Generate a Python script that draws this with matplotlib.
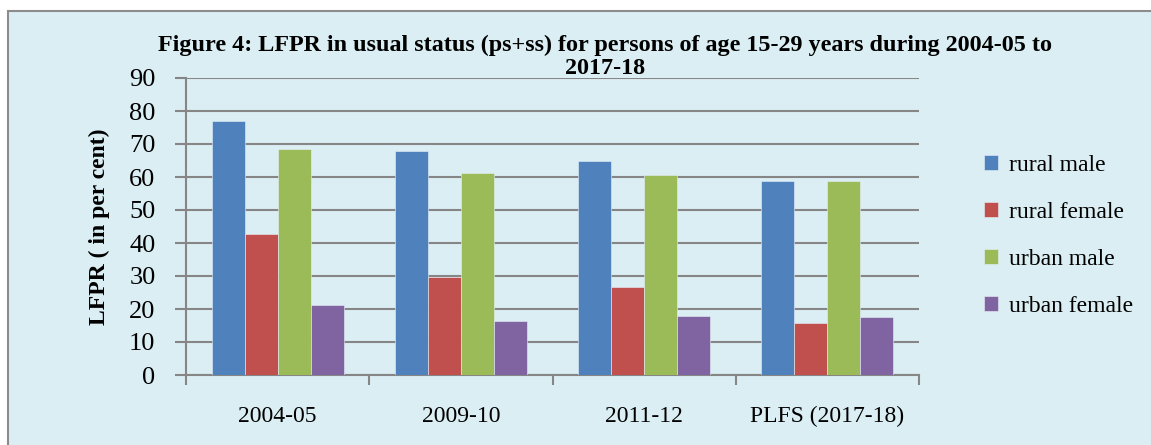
import numpy as np
import matplotlib
matplotlib.use("Agg")
import matplotlib.pyplot as plt
from matplotlib.patches import Rectangle

plt.rcParams['font.family'] = ['Liberation Serif', 'DejaVu Serif']

# values
periods = ["2004-05", "2009-10", "2011-12", "PLFS (2017-18)"]
series_names = ["rural male", "rural female", "urban male", "urban female"]
rural_male = [77.1, 67.9, 64.9, 58.8]
rural_female = [42.7, 29.8, 26.6, 15.7]
urban_male = [68.6, 61.1, 60.6, 58.8]
urban_female = [21.1, 16.3, 18.0, 17.5]
yticks = list(range(0, 91, 10))

colours = ["#4F81BD", "#C0504D", "#9BBB59", "#8064A2"]
W, H = 1151, 445

fig = plt.figure(figsize=(W / 100, H / 100), dpi=100)
fig.patch.set_facecolor("white")

# chart area background with a grey frame
bg = Rectangle((8 / W, -0.1), 1.1, (H - 11) / H + 0.1, transform=fig.transFigure,
               facecolor="#DBEEF3", edgecolor="#8C8C8C", linewidth=1.5, zorder=-10)
fig.patches.append(bg)

ax = fig.add_axes([186 / W, (H - 375) / H, (919 - 186) / W, (375 - 78) / H])
ax.set_facecolor("none")
ax.set_zorder(1)

x = np.arange(len(periods))
bw = 0.18
all_series = [rural_male, rural_female, urban_male, urban_female]
for i, vals in enumerate(all_series):
    ax.bar(x + (i - 1.5) * bw, vals, bw, color=colours[i], label=series_names[i],
           edgecolor="#E8F0F8", linewidth=0.4, zorder=3)

ax.set_xlim(-0.5, len(periods) - 0.5)
ax.set_ylim(0, 90)
ax.set_yticks(yticks)
ax.yaxis.grid(True, color="#868686", linewidth=1.5, zorder=0)
ax.set_axisbelow(True)

# category labels between boundary ticks
ax.set_xticks(np.arange(len(periods) + 1) - 0.5)
ax.set_xticklabels([])
ax.set_xticks(x, minor=True)
ax.set_xticklabels(periods, minor=True, fontsize=17)
ax.tick_params(axis="x", which="minor", length=0, pad=22)
ax.tick_params(axis="x", which="major", length=7, width=1.5, color="#868686", direction="out")
ax.tick_params(axis="y", length=8, width=1.5, color="#868686", labelsize=19, pad=14)

for s in ["top", "right"]:
    ax.spines[s].set_visible(False)
for s in ["left", "bottom"]:
    ax.spines[s].set_color("#868686")
    ax.spines[s].set_linewidth(1.5)

ax.set_ylabel("LFPR ( in per cent)", fontsize=17, fontweight="bold", labelpad=14)

fig.text(605 / W, 1 - 45 / H,
         "Figure 4: LFPR in usual status (ps+ss) for persons of age 15-29 years during 2004-05 to",
         ha="center", va="center", fontsize=17.4, fontweight="bold")
fig.text(605 / W, 1 - 68 / H, "2017-18", ha="center", va="center", fontsize=17.4, fontweight="bold")

ax.legend(loc="center left", bbox_to_anchor=(963 / W, 1 - 236 / H), bbox_transform=fig.transFigure,
          frameon=False, fontsize=17, handlelength=0.6, handleheight=0.6, handletextpad=0.45,
          labelspacing=1.1)

fig.savefig("out.png", dpi=100)
